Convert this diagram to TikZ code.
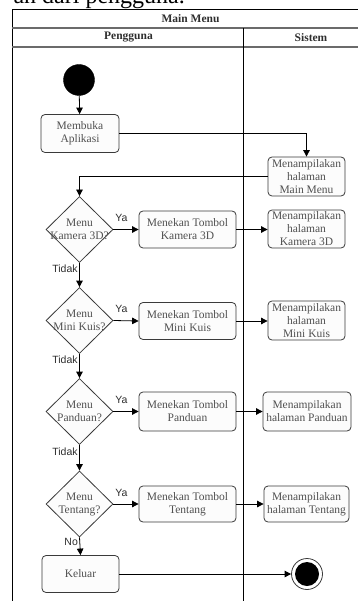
\documentclass[tikz,border=0pt]{standalone}
\usepackage{fontspec}
\setmainfont{Liberation Serif}
\newfontfamily\labelfont{Liberation Sans}
\usetikzlibrary{
  arrows.meta,
  shapes.geometric,
  positioning,
  calc
}
\definecolor{umlLine}{HTML}{3A3A3A}
\definecolor{umlText}{HTML}{505050}
\definecolor{umlFill}{HTML}{FCFCFC}
\definecolor{umlHead}{HTML}{2E2E2E}
\definecolor{umlRule}{HTML}{6B6B6B}
\tikzset{
  actbox/.style={
    draw=umlLine, fill=umlFill, rounded corners=4pt, line width=0.8pt,
    align=center, text=umlText, inner sep=1pt,
    font=\fontsize{11.5}{13}\selectfont
  },
  userbox/.style={actbox, minimum width=78pt, minimum height=38pt},
  btnbox/.style={actbox, minimum width=97pt, minimum height=37pt},
  sysbox/.style={actbox, minimum width=77pt, minimum height=38pt},
  decision/.style={
    draw=umlLine, fill=umlFill, diamond, line width=0.8pt,
    minimum width=67pt, minimum height=66pt, inner sep=0pt
  },
  dtext/.style={align=center, text=umlText, inner sep=0pt,
    font=\fontsize{11.5}{13}\selectfont},
  startdot/.style={circle, fill=black, draw=black, minimum size=31pt, inner sep=0pt},
  enddot/.style={circle, draw=umlLine, line width=0.8pt, fill=white,
    minimum size=31pt, inner sep=0pt,
    path picture={\fill[black] (path picture bounding box.center) circle (12pt);}},
  flow/.style={-{Triangle[length=6.5pt, width=6.5pt]}, line width=0.8pt, black},
  guard/.style={font=\labelfont\fontsize{10.5}{11}\selectfont, text=umlHead, inner sep=1.5pt},
  headtxt/.style={font=\fontsize{11.5}{13}\selectfont\bfseries, text=umlHead},
  frame/.style={line width=0.9pt, black},
  headrule/.style={line width=1.3pt, umlRule}
}
\begin{document}
\begin{tikzpicture}[x=1pt, y=-1pt]
  \useasboundingbox (0,0) rectangle (357,601);

  % swimlane frame
  \draw[frame] (12,610) -- (12,9) -- (380,9);
  \draw[headrule] (12,28) -- (380,28);
  \draw[headrule] (12,47) -- (380,47);
  \draw[frame] (243,28) -- (243,610);
  \node[font=\fontsize{24}{24}\selectfont, anchor=base east, inner sep=0pt] (caption) at (185,4) {an dari pengguna.};
  \node[headtxt] (title) at (190.5,19) {Main Menu};
  \node[headtxt] (laneA) at (128.5,37.5) {Pengguna};
  \node[headtxt] (laneB) at (311,37.5) {Sistem};

  % pengguna
  \node[startdot] (start) at (79,80) {};
  \node[userbox] (buka) at (80,133.5) {Membuka\\Aplikasi};
  \node[decision] (d1) at (79.5,229.5) {};
  \node[dtext] at (d1) {Menu\\Kamera 3D?};
  \node[btnbox] (bKamera) at (187.5,229.5) {Menekan Tombol\\Kamera 3D};
  \node[decision] (d2) at (79.5,320.5) {};
  \node[dtext] at (d2) {Menu\\Mini Kuis?};
  \node[btnbox] (bKuis) at (187.5,321) {Menekan Tombol\\Mini Kuis};
  \node[decision] (d3) at (79.5,411.5) {};
  \node[dtext] at (d3) {Menu\\Panduan?};
  \node[btnbox, minimum height=39pt] (bPanduan) at (187.5,411.5) {Menekan Tombol\\Panduan};
  \node[decision] (d4) at (79.5,504) {};
  \node[dtext] at (d4) {Menu\\Tentang?};
  \node[btnbox, minimum height=36pt] (bTentang) at (187.5,504) {Menekan Tombol\\Tentang};
  \node[userbox, minimum width=77pt, minimum height=37pt] (keluar) at (80.5,574) {Keluar};

  % sistem
  \node[sysbox, minimum height=39pt] (sMain) at (306.5,176.5) {Menampilakan\\halaman\\Main Menu};
  \node[sysbox] (sKamera) at (306.5,229) {Menampilakan\\halaman\\Kamera 3D};
  \node[sysbox, minimum height=39pt] (sKuis) at (306.5,320.5) {Menampilakan\\halaman\\Mini Kuis};
  \node[sysbox, minimum width=88pt, minimum height=39pt] (sPanduan) at (307,411.5) {Menampilakan\\halaman Panduan};
  \node[sysbox, minimum width=85pt, minimum height=36pt] (sTentang) at (306.5,504) {Menampilakan\\halaman Tentang};
  \node[enddot] (stop) at (307,574) {};

  % alur
  \draw[flow] (start) -- (buka);
  \draw[flow] (buka.east) -| (sMain.north);
  \draw[flow] (sMain.west) -| (d1.north);
  \draw[flow] (d1.east) -- node[guard, pos=0.32, above, yshift=6pt] {Ya} (bKamera.west);
  \draw[flow] (bKamera.east) -- (bKamera.east -| sKamera.west);
  \draw[flow] (d1.south) -- node[guard, pos=0.25, left] {Tidak} (d2.north);
  \draw[flow] (d2.east) -- node[guard, pos=0.32, above, yshift=6pt] {Ya} (bKuis.west);
  \draw[flow] (bKuis.east) -- (bKuis.east -| sKuis.west);
  \draw[flow] (d2.south) -- node[guard, pos=0.25, left] {Tidak} (d3.north);
  \draw[flow] (d3.east) -- node[guard, pos=0.32, above, yshift=6pt] {Ya} (bPanduan.west);
  \draw[flow] (bPanduan.east) -- (bPanduan.east -| sPanduan.west);
  \draw[flow] (d3.south) -- node[guard, pos=0.25, left] {Tidak} (d4.north);
  \draw[flow] (d4.east) -- node[guard, pos=0.32, above, yshift=6pt] {Ya} (bTentang.west);
  \draw[flow] (bTentang.east) -- (bTentang.east -| sTentang.west);
  \draw[flow] (d4.south) -- node[guard, pos=0.25, left] {No} (keluar.north);
  \draw[flow] (keluar) -- (stop);
\end{tikzpicture}
\end{document}
